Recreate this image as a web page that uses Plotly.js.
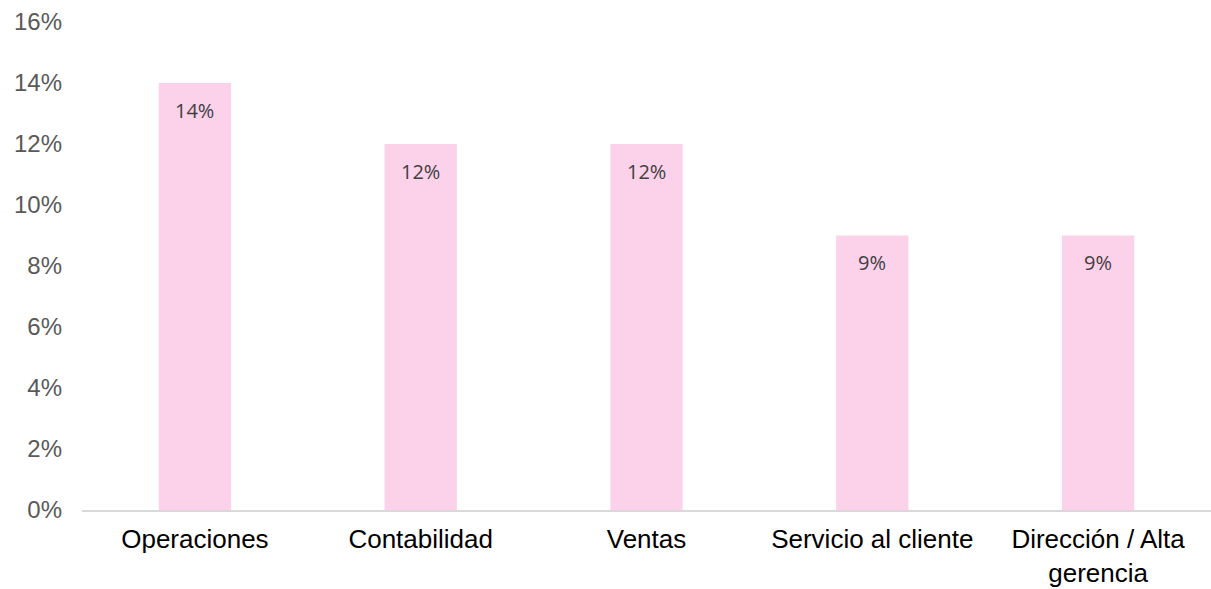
<!DOCTYPE html>
<html><head><meta charset="utf-8">
<script src="https://cdn.plot.ly/plotly-3.0.1.min.js"></script>
<style>html,body{margin:0;padding:0;background:#fff}#chart{width:1211px;height:589px}</style>
</head><body><div id="chart"></div>
<script>
const categories = ["Operaciones", "Contabilidad", "Ventas", "Servicio al cliente", "Dirección / Alta<br>gerencia"];
const values = [0.14, 0.12, 0.12, 0.09, 0.09];
const valueLabels = ["14%", "12%", "12%", "9%", "9%"];
const tickValues = [0, 0.02, 0.04, 0.06, 0.08, 0.10, 0.12, 0.14, 0.16];
const tickLabels = ["0%", "2%", "4%", "6%", "8%", "10%", "12%", "14%", "16%"];

const trace = {
  type: 'bar', x: categories, y: values,
  marker: {color: '#FCD1EA'}, width: 0.32,
  hoverinfo: 'none'
};
const annotations = categories.map((c, i) => ({
  x: c, y: values[i], xref: 'x', yref: 'y', text: valueLabels[i],
  showarrow: false, yanchor: 'middle', yshift: -27,
  font: {family: 'Open Sans, Noto Sans, sans-serif', size: 20, color: '#404040'}
}));
const layout = {
  width: 1211, height: 589,
  margin: {l: 82, r: 0, t: 22, b: 79},
  paper_bgcolor: '#fff', plot_bgcolor: '#fff',
  showlegend: false,
  xaxis: {
    type: 'category', showgrid: false, zeroline: false,
    showline: true, linecolor: '#D9D9D9', linewidth: 2,
    ticks: '', ticklabelstandoff: 5,
    tickfont: {family: 'Liberation Sans, Arial, sans-serif', size: 26, color: '#000'}
  },
  yaxis: {
    range: [0, 0.16], tickvals: tickValues, ticktext: tickLabels,
    showgrid: false, zeroline: false, showline: false, ticks: '',
    ticklabelstandoff: 19,
    tickfont: {family: 'Liberation Sans, Arial, sans-serif', size: 24, color: '#595959'}
  },
  annotations: annotations
};
Plotly.newPlot('chart', [trace], layout, {displayModeBar: false, staticPlot: true});
</script></body></html>
